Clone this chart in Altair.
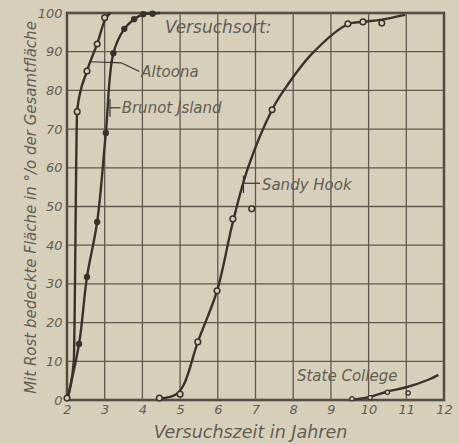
import altair as alt
import pandas as pd

# ---- data ----
alt_line_x = [2.0, 2.18, 2.27, 2.53, 2.8, 3.02, 3.15]
alt_line_y = [0, 10, 75, 85, 92, 98.5, 100]
alt_mark_x = [2.0, 2.27, 2.53, 2.8, 3.0]
alt_mark_y = [0.5, 74.5, 85, 92, 98.8]

bru_line_x = [2.0, 2.32, 2.53, 2.8, 3.03, 3.23, 3.52, 3.78, 4.0, 4.47]
bru_line_y = [0, 14.5, 31.8, 46, 69, 89.6, 95.9, 98.4, 99.6, 100]
bru_mark_x = [2.32, 2.53, 2.8, 3.03, 3.23, 3.52, 3.78, 4.02, 4.27]
bru_mark_y = [14.5, 31.8, 46, 69, 89.6, 95.9, 98.4, 99.7, 99.8]

san_line_x = [4.45, 4.9, 5.1, 5.47, 5.98, 6.4, 6.8, 7.44, 7.75, 8.5, 9.45, 9.85, 10.35, 10.97]
san_line_y = [0.3, 1.5, 4, 15, 28.2, 46, 60, 75, 80, 89.5, 97.1, 97.7, 98.3, 99.5]
san_mark_x = [4.45, 5.0, 5.47, 5.98, 6.4, 6.9, 7.44, 9.45, 9.85, 10.35]
san_mark_y = [0.5, 1.5, 15, 28.2, 46.8, 49.4, 75, 97.2, 97.7, 97.4]

sta_line_x = [9.5, 10.04, 10.5, 11.0, 11.6, 11.85]
sta_line_y = [0, 0.8, 2.2, 3.3, 5.3, 6.5]
sta_mark_x = [9.56, 10.04, 10.5, 11.05]
sta_mark_y = [0.3, 0.6, 2.0, 1.8]

x_ticks = list(range(2, 13))
y_ticks = list(range(0, 101, 10))

# annotation labels
head_text = ["Versuchsort:"]
head_x = [4.6]
head_y = [96.1]
lab_text = ["Altoona", "Brunot Jsland", "Sandy Hook", "State College"]
lab_x = [3.97, 3.45, 7.17, 8.1]
lab_y = [84.8, 75.5, 55.6, 6.2]

# leader lines (segments)
ld_x = [2.62, 3.45, 3.14, 3.14, 6.68, 6.68]
ld_y = [87.4, 87.1, 77.8, 75.5, 58.0, 56.0]
ld_x2 = [3.45, 3.92, 3.14, 3.42, 6.68, 7.12]
ld_y2 = [87.1, 84.9, 73.2, 75.5, 53.5, 56.0]

BG = "#d6d0bb"
INK = "#37332b"
GRID = "#5f594d"
TXT = "#625d52"
FONT = "DejaVu Sans"

def mk(name, xs, ys):
    return pd.DataFrame({"s": name, "x": xs, "y": ys})

steep_lines = mk("Altoona", alt_line_x, alt_line_y)
smooth_lines = pd.concat([
    mk("Brunot", bru_line_x, bru_line_y),
    mk("Sandy", san_line_x, san_line_y),
    mk("State", sta_line_x, sta_line_y),
])
open_pts = pd.concat([
    mk("Altoona", alt_mark_x, alt_mark_y),
    mk("Sandy", san_mark_x, san_mark_y),
])
state_pts = mk("State", sta_mark_x, sta_mark_y)
filled_pts = mk("Brunot", bru_mark_x, bru_mark_y)
labels = pd.DataFrame({"t": lab_text, "x": lab_x, "y": lab_y})
heads = pd.DataFrame({"t": head_text, "x": head_x, "y": head_y})
leaders = pd.DataFrame({"x": ld_x, "y": ld_y, "x2": ld_x2, "y2": ld_y2})
vgrid = pd.DataFrame({"x": x_ticks})
hgrid = pd.DataFrame({"y": y_ticks})

xs = alt.Scale(domain=[2, 12], nice=False, zero=False)
ys = alt.Scale(domain=[0, 100], nice=False)

xax = alt.Axis(values=x_ticks, title="Versuchszeit in Jahren", grid=False, ticks=False,
               domain=False, labelFont=FONT, labelFontStyle="italic", labelFontSize=13,
               labelColor=TXT, labelPadding=3, labelOverlap=False, labelFlush=False,
               titleFont=FONT, titleFontStyle="italic",
               titleFontWeight="normal", titleFontSize=17.5, titleColor=TXT,
               titleX=183, titleY=32, titleBaseline="middle", titleAlign="center")
yax = alt.Axis(values=y_ticks, title="Mit Rost bedeckte Fläche in °/o der Gesamtfläche",
               grid=False, ticks=False, domain=False, labelFont=FONT, labelFontStyle="italic",
               labelFontSize=13, labelColor=TXT, labelPadding=5, labelOverlap=False,
               labelFlush=False, titleFont=FONT,
               titleFontStyle="italic", titleFontWeight="normal", titleFontSize=15,
               titleColor=TXT, titleX=-37, titleY=194, titleAngle=270,
               titleBaseline="middle", titleAlign="center")

X = alt.X("x:Q", scale=xs, axis=xax)
Y = alt.Y("y:Q", scale=ys, axis=yax)

vgrid_layer = alt.Chart(vgrid).mark_rule(color=GRID, strokeWidth=1.3).encode(x=X)
hgrid_layer = alt.Chart(hgrid).mark_rule(color=GRID, strokeWidth=1.3).encode(y=Y)

steep_layer = alt.Chart(steep_lines).mark_line(color=INK, strokeWidth=2.4, interpolate="monotone").encode(
    x=X, y=Y, detail="s:N", order=alt.Order("x:Q"))
smooth_layer = alt.Chart(smooth_lines).mark_line(color=INK, strokeWidth=2.4, interpolate="catmull-rom").encode(
    x=X, y=Y, detail="s:N", order=alt.Order("x:Q"))

open_layer = alt.Chart(open_pts).mark_point(shape="circle", filled=True, fill=BG, stroke=INK,
                                            strokeWidth=1.5, size=32, opacity=1).encode(x=X, y=Y)

state_layer = alt.Chart(state_pts).mark_point(shape="circle", filled=True, fill=BG, stroke=INK,
                                              strokeWidth=1.2, size=18, opacity=1).encode(x=X, y=Y)

filled_layer = alt.Chart(filled_pts).mark_point(shape="circle", filled=True, color=INK,
                                                size=40, opacity=1).encode(x=X, y=Y)

leader_layer = alt.Chart(leaders).mark_rule(color=INK, strokeWidth=1.2).encode(
    x=X, y=Y, x2="x2:Q", y2="y2:Q")

label_layer = alt.Chart(labels).mark_text(align="left", baseline="middle", font=FONT,
                                          fontStyle="italic", fontSize=15, color=TXT).encode(
    x=X, y=Y, text="t:N")

head_layer = alt.Chart(heads).mark_text(align="left", baseline="middle", font=FONT,
                                        fontStyle="italic", fontSize=17, color=TXT).encode(
    x=X, y=Y, text="t:N")

chart = alt.layer(vgrid_layer, hgrid_layer, steep_layer, smooth_layer, leader_layer, open_layer,
                  state_layer, filled_layer, label_layer, head_layer).properties(
    width=377, height=387,
    autosize=alt.AutoSizeParams(type="none"),
    padding={"left": 67, "top": 13, "right": 15, "bottom": 44},
    background=BG,
).configure_view(stroke=INK, strokeWidth=2.4, fill=BG)

chart.save("out.html", embed_options={"renderer": "svg", "actions": False})
